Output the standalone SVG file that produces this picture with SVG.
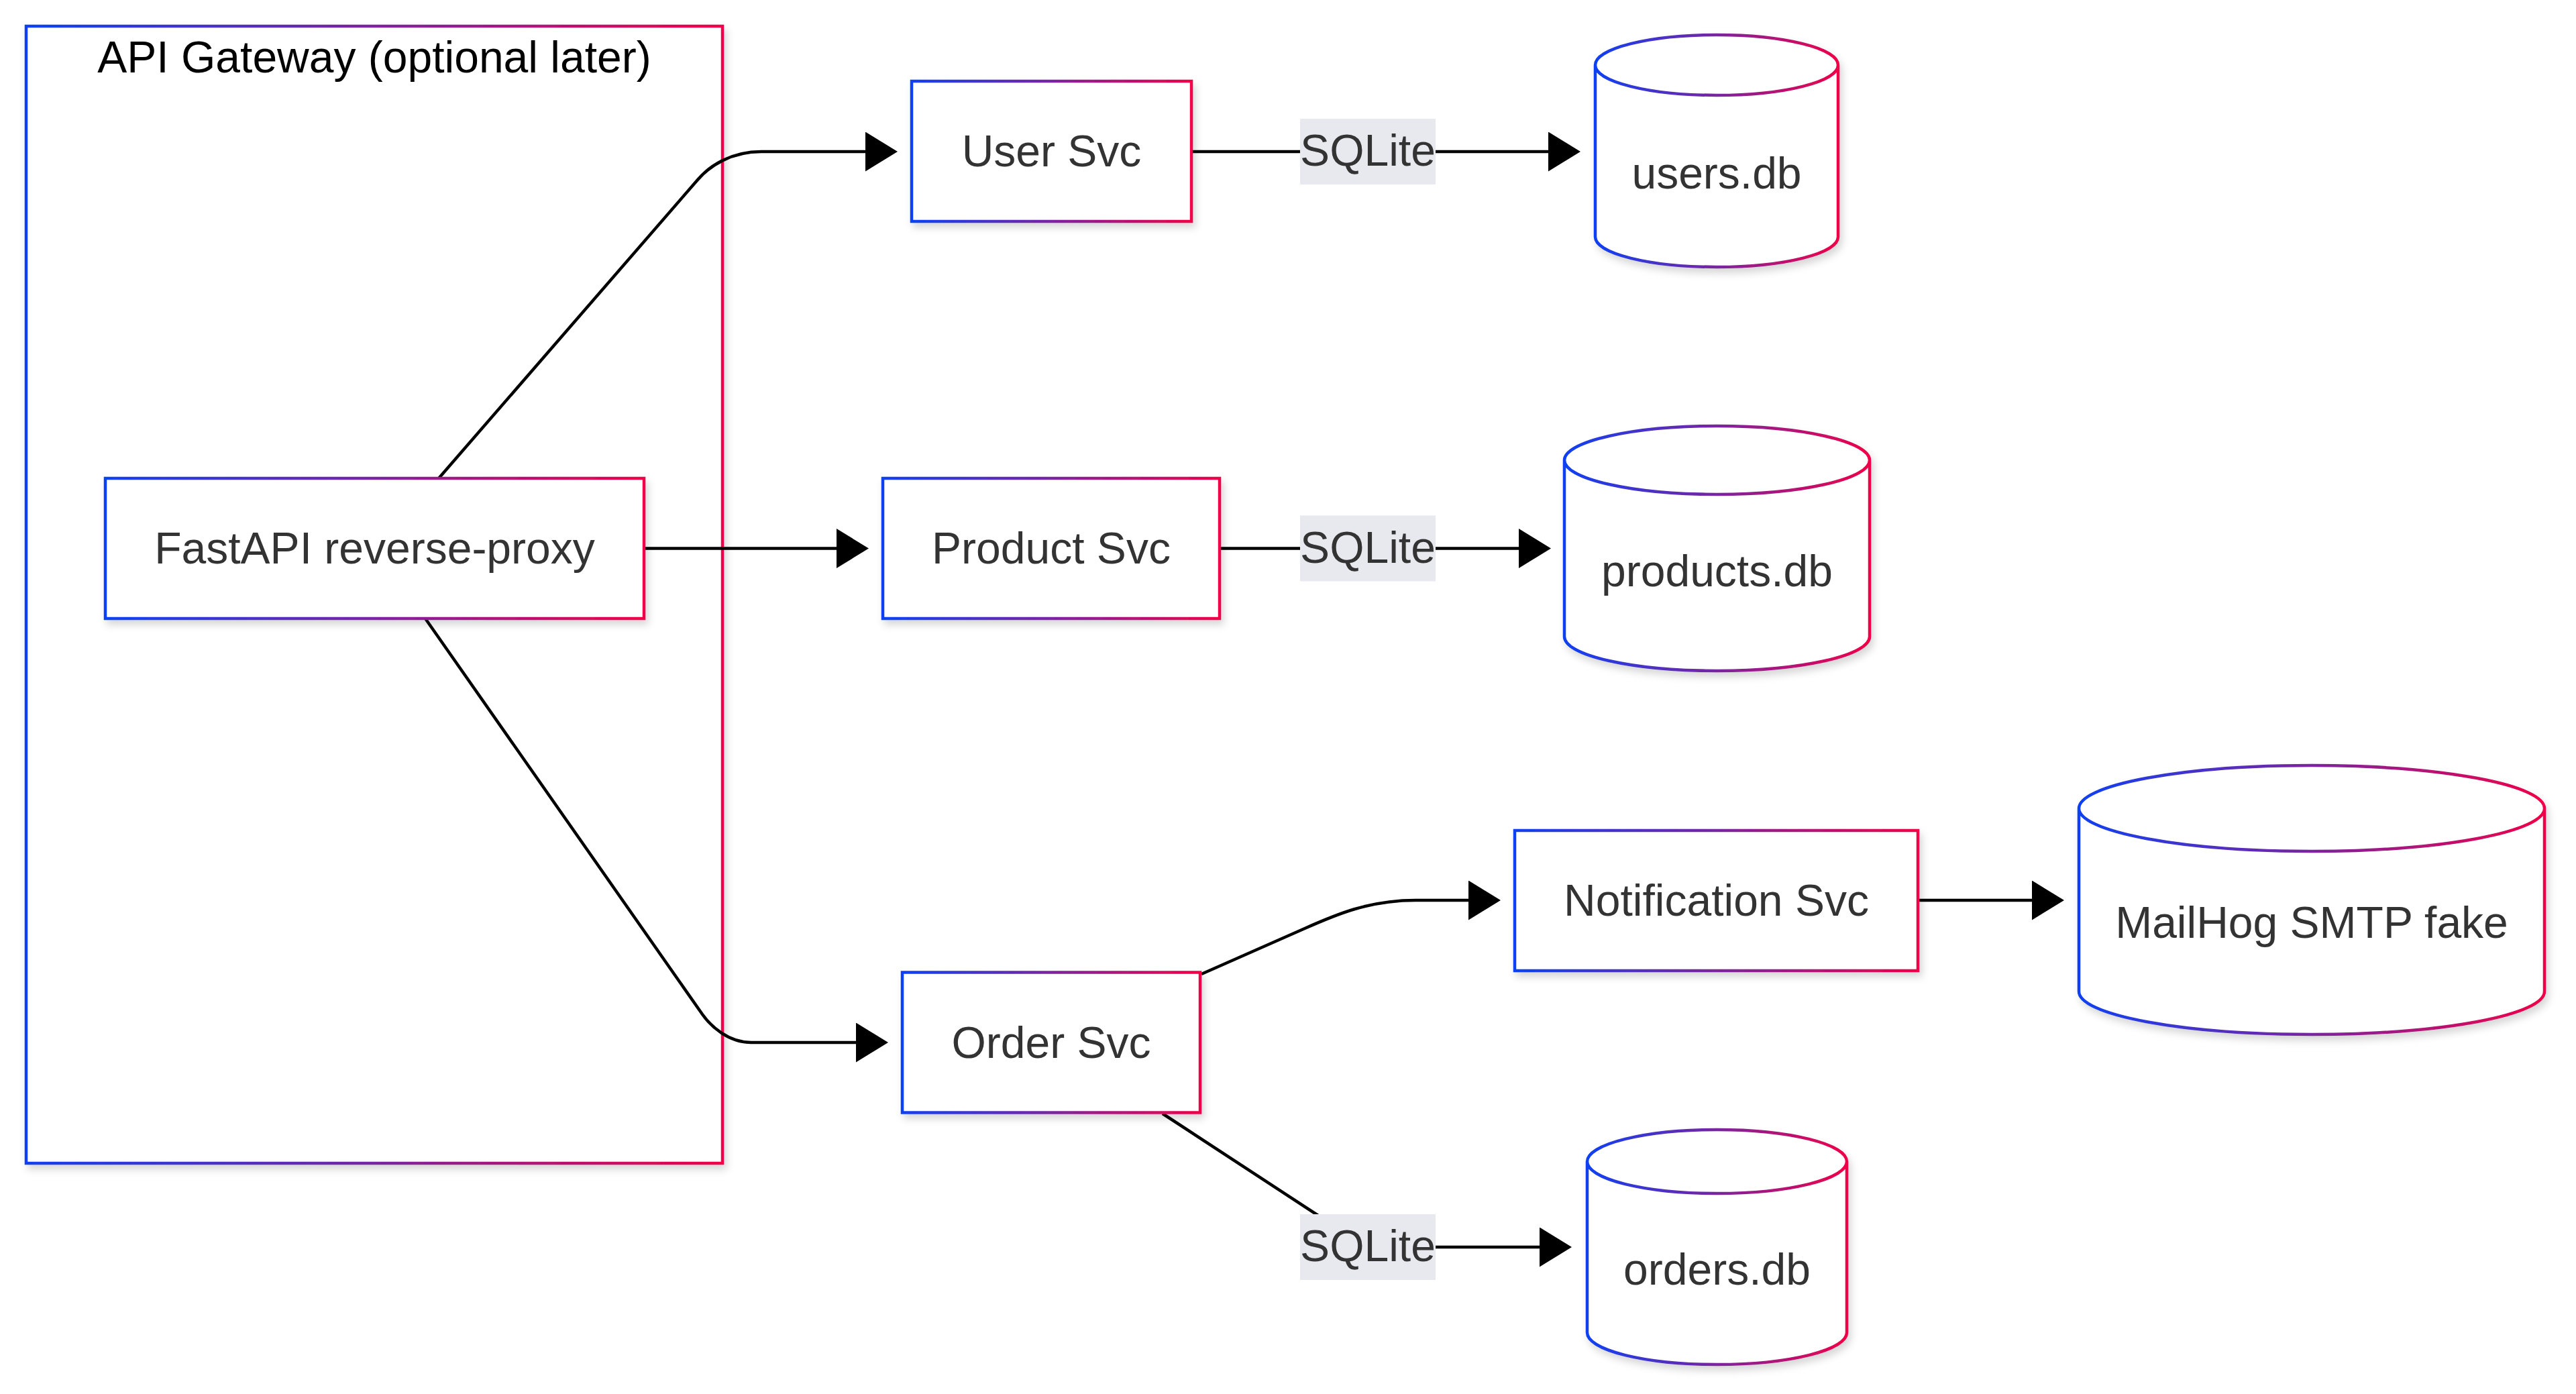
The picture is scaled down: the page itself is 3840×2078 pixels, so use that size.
<svg xmlns="http://www.w3.org/2000/svg" width="3840" height="2078" viewBox="0 0 3840 2078">
<defs>
<linearGradient id="g" x1="0" y1="0" x2="1" y2="0">
<stop offset="0" stop-color="#0f40f2"/>
<stop offset="0.5" stop-color="#7a25a0"/>
<stop offset="1" stop-color="#f00048"/>
</linearGradient>
<filter id="sh" x="-10%" y="-10%" width="130%" height="140%">
<feDropShadow dx="4" dy="7" stdDeviation="6" flood-color="#000" flood-opacity="0.16"/>
</filter>
<marker id="arr" markerUnits="userSpaceOnUse" markerWidth="50" markerHeight="62" refX="38" refY="29.5" orient="auto">
<path d="M0,0 L48,29.5 L0,59 Z" fill="#000"/>
</marker>
</defs>
<style>
.node{fill:#fff;stroke:url(#g);stroke-width:4.5;filter:url(#sh)}
.cl{fill:#fff;stroke:url(#g);stroke-width:4.5;filter:url(#sh)}
.t{font-family:"Liberation Sans",Arial,Helvetica,sans-serif;font-size:66px;fill:#333;text-anchor:middle}
.ct{font-family:"Liberation Sans",Arial,Helvetica,sans-serif;font-size:66px;fill:#000;text-anchor:middle}
.e{fill:none;stroke:#000;stroke-width:4.5;marker-end:url(#arr)}
.lb{fill:#e8e8ef}
</style>
<rect width="3840" height="2078" fill="#fff"/>
<g id="cluster-gateway">
<rect class="cl" x="39" y="39" width="1038" height="1695"/>
<text class="ct" x="558" y="108">API Gateway (optional later)</text>
</g>
<g id="connectors">
<path class="e" d="M654,713 L1040,268 C1058,247 1090,226 1135,226 L1328,226"/>
<path class="e" d="M960,817.5 L1285,817.5"/>
<path class="e" d="M634,922 L1047,1512 C1059,1529 1085,1554 1120,1554 L1314,1554"/>
<path class="e" d="M1776,226 L2346,226"/>
<path class="e" d="M1820,817.5 L2302,817.5"/>
<path class="e" d="M1791,1452 L1945,1384 C1990,1364 2040,1342 2110,1342 L2227,1342"/>
<path class="e" d="M2859,1342 L3067,1342"/>
<path class="e" d="M1733,1660 L1985,1825 C2010,1842 2040,1859 2075,1859 L2333,1859"/>
<g id="edge-labels">
<rect class="lb" x="1938" y="177" width="202" height="98"/>
<text class="t" x="2039" y="247">SQLite</text>
<rect class="lb" x="1938" y="768.5" width="202" height="98"/>
<text class="t" x="2039" y="839">SQLite</text>
<rect class="lb" x="1938" y="1810" width="202" height="98"/>
<text class="t" x="2039" y="1880">SQLite</text>
</g>
</g>
<g id="node-fastapi">
<rect class="node" x="157" y="713" width="803" height="209"/>
<text class="t" x="558.5" y="840">FastAPI reverse-proxy</text>
</g>
<g id="node-user">
<rect class="node" x="1359" y="121" width="417" height="209"/>
<text class="t" x="1567.5" y="248">User Svc</text>
</g>
<g id="node-product">
<rect class="node" x="1316" y="713" width="502" height="209"/>
<text class="t" x="1567" y="840">Product Svc</text>
</g>
<g id="node-order">
<rect class="node" x="1345" y="1449.5" width="444" height="209"/>
<text class="t" x="1567" y="1577">Order Svc</text>
</g>
<g id="node-notification">
<rect class="node" x="2258" y="1238" width="601" height="209"/>
<text class="t" x="2558.5" y="1365">Notification Svc</text>
</g>
<g id="node-usersdb">
<path class="node" d="M2378,97 a181,45 0 0 0 362,0 a181,45 0 0 0 -362,0 l0,256 a181,45 0 0 0 362,0 l0,-256"/>
<text class="t" x="2559" y="281">users.db</text>
</g>
<g id="node-productsdb">
<path class="node" d="M2332,686 a227.5,51 0 0 0 455,0 a227.5,51 0 0 0 -455,0 l0,263 a227.5,51 0 0 0 455,0 l0,-263"/>
<text class="t" x="2559.5" y="874">products.db</text>
</g>
<g id="node-mailhog">
<path class="node" d="M3099,1205 a347,64 0 0 0 694,0 a347,64 0 0 0 -694,0 l0,273 a347,64 0 0 0 694,0 l0,-273"/>
<text class="t" x="3446" y="1398">MailHog SMTP fake</text>
</g>
<g id="node-ordersdb">
<path class="node" d="M2366,1731.5 a193.5,47.5 0 0 0 387,0 a193.5,47.5 0 0 0 -387,0 l0,255 a193.5,47.5 0 0 0 387,0 l0,-255"/>
<text class="t" x="2559.5" y="1915">orders.db</text>
</g>
</svg>
